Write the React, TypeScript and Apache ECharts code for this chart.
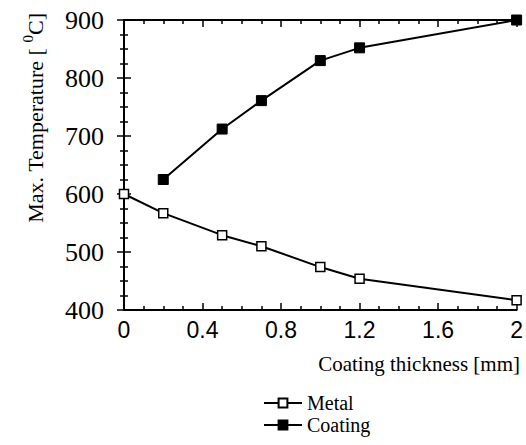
import React, { useEffect, useRef } from "react";
import * as echarts from "echarts";

const metalX = [0, 0.2, 0.5, 0.7, 1.0, 1.2, 2.0];
const metalY = [600, 567, 529, 510, 474, 454, 417];
const coatingX = [0.2, 0.5, 0.7, 1.0, 1.2, 2.0];
const coatingY = [625, 712, 761, 830, 852, 900];
const seriesNames = ["Metal", "Coating"];
const xTitle = "Coating thickness [mm]";

const SERIF = "'Liberation Serif', 'DejaVu Serif', serif";
const SANS = "'Liberation Sans', Arial, sans-serif";

export default function App() {
  const ref = useRef<HTMLDivElement>(null);
  useEffect(() => {
    if (!ref.current) return;
    const chart = echarts.init(ref.current, null, { renderer: "svg" });
    const axisLine = { show: true, lineStyle: { color: "#000", width: 2 } };
    const xBase = {
      type: "value",
      min: 0,
      max: 2,
      interval: 0.4,
      axisLine,
      splitLine: { show: false },
      axisTick: { show: true, inside: true, length: 7, lineStyle: { color: "#000", width: 1.5 } },
      minorTick: { show: true, splitNumber: 4, length: 4, lineStyle: { color: "#000", width: 1.5 } },
    };
    const yBase = {
      type: "value",
      min: 400,
      max: 900,
      interval: 100,
      axisLine,
      splitLine: { show: false },
      axisTick: { show: true, inside: true, length: 7, lineStyle: { color: "#000", width: 1.5 } },
      minorTick: { show: true, splitNumber: 4, length: 4, lineStyle: { color: "#000", width: 1.5 } },
    };
    chart.setOption({
      animation: false,
      backgroundColor: "#fff",
      grid: { left: 124, right: 6, top: 20, bottom: 135, containLabel: false },
      xAxis: [
        {
          ...xBase,
          position: "bottom",
          axisLabel: {
            show: true,
            margin: 8,
            color: "#000",
            fontFamily: SANS,
            fontSize: 23,
            formatter: (v: number) => String(Math.round(v * 10) / 10),
          },
        },
        { ...xBase, position: "top", axisLabel: { show: false } },
      ],
      yAxis: [
        {
          ...yBase,
          position: "left",
          axisLabel: { show: true, margin: 20, color: "#000", fontFamily: SERIF, fontSize: 26 },
        },
        { ...yBase, position: "right", axisLabel: { show: false } },
      ],
      legend: {
        data: seriesNames,
        orient: "vertical",
        left: 263,
        top: 393,
        itemWidth: 38,
        itemHeight: 11,
        itemGap: 2,
        padding: 0,
        textStyle: { color: "#000", fontFamily: SERIF, fontSize: 20 },
      },
      graphic: [
        {
          type: "text",
          x: 33,
          y: 118,
          rotation: Math.PI / 2,
          style: {
            text: "{n|Max. Temperature [ }{s|0}{n|C]}",
            align: "center",
            verticalAlign: "middle",
            fill: "#000",
            rich: {
              n: { fontFamily: SERIF, fontSize: 22, color: "#000", lineHeight: 26, verticalAlign: "bottom" },
              s: { fontFamily: SERIF, fontSize: 15, color: "#000", lineHeight: 26, verticalAlign: "top" },
            },
          },
        },
        {
          type: "text",
          x: 520,
          y: 364,
          style: {
            text: xTitle,
            align: "right",
            verticalAlign: "middle",
            fill: "#000",
            fontFamily: SERIF,
            fontSize: 21,
          },
        },
      ],
      series: [
        {
          name: seriesNames[0],
          type: "line",
          data: metalX.map((x, i) => [x, metalY[i]]),
          symbol: "rect",
          symbolSize: 9,
          clip: false,
          lineStyle: { color: "#000", width: 2 },
          itemStyle: { color: "#fff", borderColor: "#000", borderWidth: 1.5 },
        },
        {
          name: seriesNames[1],
          type: "line",
          data: coatingX.map((x, i) => [x, coatingY[i]]),
          symbol: "rect",
          symbolSize: 10,
          clip: false,
          lineStyle: { color: "#000", width: 2 },
          itemStyle: { color: "#000", borderColor: "#000", borderWidth: 1 },
        },
      ],
    });
    return () => chart.dispose();
  }, []);
  return <div ref={ref} style={{ width: 526, height: 445, position: "absolute", left: 0, top: 0 }} />;
}
